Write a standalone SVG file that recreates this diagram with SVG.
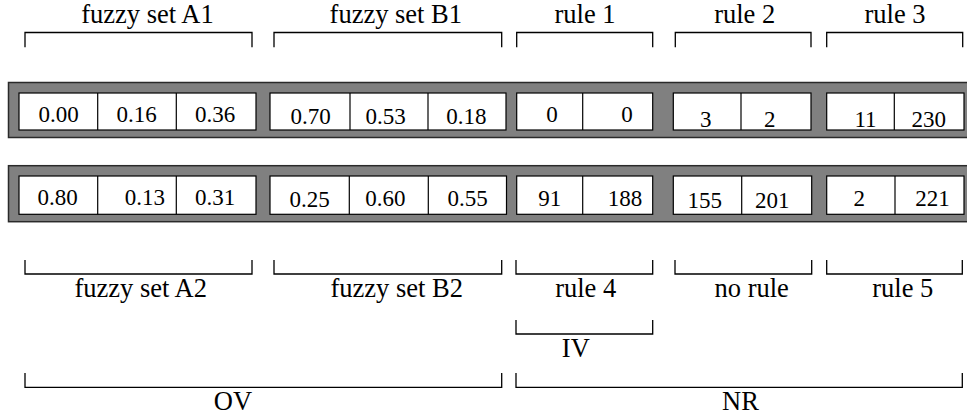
<svg xmlns="http://www.w3.org/2000/svg" width="967" height="416" viewBox="0 0 967 416">
  <style>
    .bar { fill: #808080; stroke: #2a2a2a; stroke-width: 1.5; }
    .cell { fill: #ffffff; stroke: #000000; stroke-width: 1.2; }
    .div { stroke: #000000; stroke-width: 1.2; }
    text { font-family: 'Liberation Serif', 'DejaVu Serif', serif; fill: #000; text-anchor: middle; }
    .num { font-size: 23px; }
    .lbl { font-size: 26.5px; }
    .brk { fill: none; stroke: #000000; stroke-width: 1.3; }
  </style>

  <!-- chromosome 1 -->
  <g id="row1">
    <rect class="bar" x="8.5" y="82.5" width="970" height="55"/>
    <g id="row1-setA">
      <rect class="cell" x="19" y="93" width="237" height="37"/>
      <line class="div" x1="97.7" y1="93" x2="97.7" y2="130"/>
      <line class="div" x1="176.3" y1="93" x2="176.3" y2="130"/>
      <text class="num" x="58.7" y="122">0.00</text>
      <text class="num" x="136.7" y="122">0.16</text>
      <text class="num" x="215" y="122">0.36</text>
    </g>
    <g id="row1-setB">
      <rect class="cell" x="270" y="93" width="236" height="37"/>
      <line class="div" x1="350" y1="93" x2="350" y2="130"/>
      <line class="div" x1="428" y1="93" x2="428" y2="130"/>
      <text class="num" x="310.5" y="123.5">0.70</text>
      <text class="num" x="385.5" y="123.5">0.53</text>
      <text class="num" x="466.3" y="123.5">0.18</text>
    </g>
    <g id="row1-rule1">
      <rect class="cell" x="516.7" y="93" width="136" height="37"/>
      <line class="div" x1="582.7" y1="93" x2="582.7" y2="130"/>
      <text class="num" x="552" y="122">0</text>
      <text class="num" x="627" y="122">0</text>
    </g>
    <g id="row1-rule2">
      <rect class="cell" x="673.3" y="93" width="137.7" height="37"/>
      <line class="div" x1="741" y1="93" x2="741" y2="130"/>
      <text class="num" x="705.8" y="127">3</text>
      <text class="num" x="769.7" y="127">2</text>
    </g>
    <g id="row1-rule3">
      <rect class="cell" x="826.7" y="93" width="137.3" height="37"/>
      <line class="div" x1="894.3" y1="93" x2="894.3" y2="130"/>
      <text class="num" x="865.5" y="127">11</text>
      <text class="num" x="928.8" y="127">230</text>
    </g>
  </g>

  <!-- chromosome 2 -->
  <g id="row2">
    <rect class="bar" x="8.5" y="165.7" width="970" height="56"/>
    <g id="row2-setA">
      <rect class="cell" x="19" y="176" width="237" height="38.3"/>
      <line class="div" x1="97.7" y1="176" x2="97.7" y2="214.3"/>
      <line class="div" x1="176.3" y1="176" x2="176.3" y2="214.3"/>
      <text class="num" x="57.7" y="205">0.80</text>
      <text class="num" x="144.8" y="205">0.13</text>
      <text class="num" x="215.2" y="205">0.31</text>
    </g>
    <g id="row2-setB">
      <rect class="cell" x="270" y="176" width="236.5" height="38.3"/>
      <line class="div" x1="349.3" y1="176" x2="349.3" y2="214.3"/>
      <line class="div" x1="428.3" y1="176" x2="428.3" y2="214.3"/>
      <text class="num" x="309.5" y="207">0.25</text>
      <text class="num" x="385.3" y="206">0.60</text>
      <text class="num" x="467.5" y="206">0.55</text>
    </g>
    <g id="row2-rule4">
      <rect class="cell" x="516.7" y="176" width="136" height="38.3"/>
      <line class="div" x1="582.7" y1="176" x2="582.7" y2="214.3"/>
      <text class="num" x="549.8" y="206">91</text>
      <text class="num" x="625" y="206">188</text>
    </g>
    <g id="row2-norule">
      <rect class="cell" x="673.3" y="176" width="138.4" height="38.3"/>
      <line class="div" x1="741.7" y1="176" x2="741.7" y2="214.3"/>
      <text class="num" x="704.7" y="208">155</text>
      <text class="num" x="772.2" y="208">201</text>
    </g>
    <g id="row2-rule5">
      <rect class="cell" x="826.7" y="176" width="137.3" height="38.3"/>
      <line class="div" x1="895" y1="176" x2="895" y2="214.3"/>
      <text class="num" x="859.2" y="206">2</text>
      <text class="num" x="932.5" y="206">221</text>
    </g>
  </g>

  <!-- brackets -->
  <g id="brackets">
    <path class="brk" d="M25 47.3V32.5H252V47.3"/>
    <path class="brk" d="M274 47.3V32.5H501.7V47.3"/>
    <path class="brk" d="M516.7 47.3V32.5H652.7V47.3"/>
    <path class="brk" d="M675.3 47.3V32.5H811V47.3"/>
    <path class="brk" d="M826.7 47.3V32.5H962.7V47.3"/>

    <path class="brk" d="M25 260V274H252V260"/>
    <path class="brk" d="M274 260V274H501.7V260"/>
    <path class="brk" d="M516 260V274H652.7V260"/>
    <path class="brk" d="M675 260V274H811.7V260"/>
    <path class="brk" d="M826.7 260V274H962.3V260"/>

    <path class="brk" d="M516 320V334H652.7V320"/>

    <path class="brk" d="M25 373V387.3H501.7V373"/>
    <path class="brk" d="M516 373V387.3H962.3V373"/>
  </g>

  <!-- labels -->
  <g id="labels">
    <text class="lbl" x="147.5" y="23.3">fuzzy set A1</text>
    <text class="lbl" x="395.8" y="23.3">fuzzy set B1</text>
    <text class="lbl" x="585" y="23.3">rule 1</text>
    <text class="lbl" x="744.7" y="23.3">rule 2</text>
    <text class="lbl" x="895" y="23.3">rule 3</text>

    <text class="lbl" x="140.7" y="296.7">fuzzy set A2</text>
    <text class="lbl" x="396.7" y="296.7">fuzzy set B2</text>
    <text class="lbl" x="585.7" y="296.7">rule 4</text>
    <text class="lbl" x="751.7" y="296.7">no rule</text>
    <text class="lbl" x="902.8" y="296.7">rule 5</text>

    <text class="lbl" x="575.8" y="357.3">IV</text>
    <text class="lbl" x="233" y="409.5">OV</text>
    <text class="lbl" x="740.5" y="409.5">NR</text>
  </g>
</svg>
